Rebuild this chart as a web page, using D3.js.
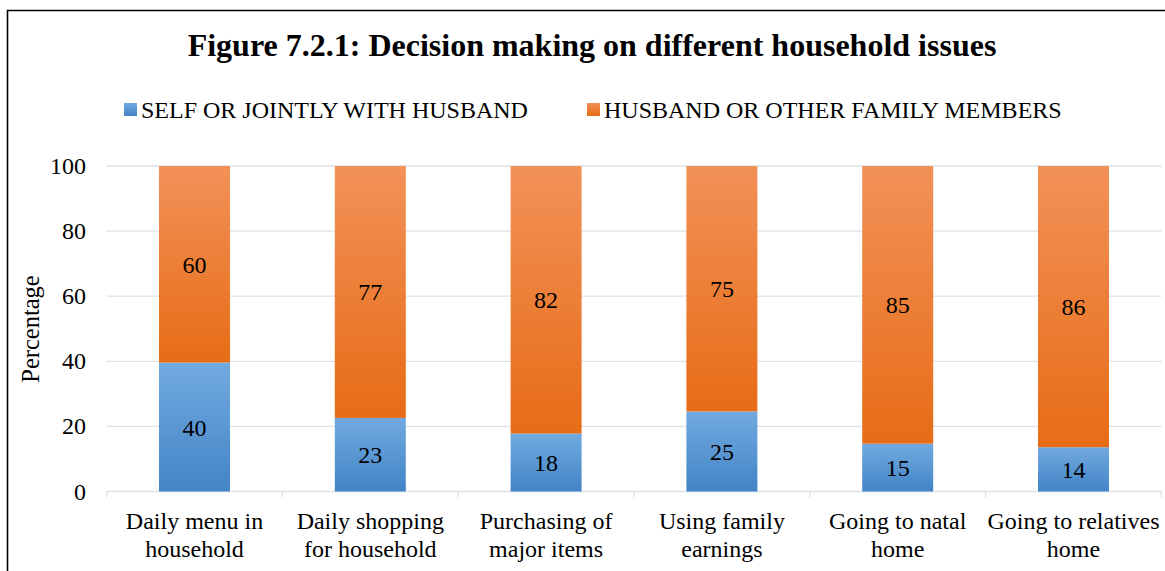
<!DOCTYPE html>
<html><head><meta charset="utf-8">
<script src="https://cdn.jsdelivr.net/npm/d3@7"></script>
<style>body{margin:0;background:#fff}svg{display:block}text{font-family:"Liberation Serif","Times New Roman",serif;fill:#000}</style>
</head><body><svg id="c" width="1165" height="571"></svg>
<script>
const categories = [["Daily menu in","household"],["Daily shopping","for household"],["Purchasing of","major items"],["Using family","earnings"],["Going to natal","home"],["Going to relatives","home"]];
const selfValues = [39.6, 22.6, 17.8, 24.6, 14.7, 13.6];
const husbandValues = [60.4, 77.4, 82.2, 75.4, 85.3, 86.4];
const seriesNames = ["SELF OR JOINTLY WITH HUSBAND","HUSBAND OR OTHER FAMILY MEMBERS"];
const yTicks = [0,20,40,60,80,100];

const svg = d3.select("#c");
const defs = svg.append("defs");
function grad(id, c1, c2){
  const g = defs.append("linearGradient").attr("id",id).attr("x1",0).attr("y1",0).attr("x2",0).attr("y2",1);
  g.append("stop").attr("offset","0%").attr("stop-color",c1);
  g.append("stop").attr("offset","100%").attr("stop-color",c2);
}
grad("gb","#71AAE0","#4384C6");
grad("go","#F29158","#E76C16");

// frame
svg.append("path").attr("d","M7.5,575 L7.5,10.5 L1170,10.5").attr("fill","none").attr("stroke","#000").attr("stroke-width",1.6);

const left=106.6, right=1161.4, y0=491.5, y100=166;
const x = d3.scaleBand().domain(d3.range(categories.length)).range([left,right]).paddingInner(0).paddingOuter(0);
const y = d3.scaleLinear().domain([0,100]).range([y0,y100]);
const bw = 71;
const fs = 24;

// gridlines
svg.append("g").selectAll("line").data(yTicks).join("line")
  .attr("x1",left).attr("x2",right).attr("y1",d=>y(d)).attr("y2",d=>y(d))
  .attr("stroke","#DDE2E9").attr("stroke-width",1.3);
// category ticks
svg.append("g").selectAll("line").data(d3.range(categories.length+1)).join("line")
  .attr("x1",d=>left+d*x.bandwidth()).attr("x2",d=>left+d*x.bandwidth())
  .attr("y1",y0).attr("y2",y0+6).attr("stroke","#DDE2E9").attr("stroke-width",1.3);

// y tick labels
svg.append("g").selectAll("text").data(yTicks).join("text")
  .attr("x",86).attr("y",d=>y(d)+8).attr("text-anchor","end").attr("font-size",fs).text(d=>d);

svg.append("text").attr("transform","translate(39,329) rotate(-90)").attr("text-anchor","middle").attr("font-size",24.5).text("Percentage");

const cx = i => x(i)+x.bandwidth()/2;
const g = svg.append("g");
g.selectAll("rect.b").data(selfValues).join("rect").attr("class","b")
  .attr("x",(d,i)=>cx(i)-bw/2).attr("width",bw).attr("y",d=>y(d)).attr("height",d=>y(0)-y(d)).attr("fill","url(#gb)");
g.selectAll("rect.o").data(husbandValues).join("rect").attr("class","o")
  .attr("x",(d,i)=>cx(i)-bw/2).attr("width",bw).attr("y",(d,i)=>y(selfValues[i]+d)).attr("height",(d,i)=>y(selfValues[i])-y(selfValues[i]+d)).attr("fill","url(#go)");

g.selectAll("text.lb").data(selfValues).join("text").attr("class","lb")
  .attr("x",(d,i)=>cx(i)).attr("y",d=>y(d/2)+8.5).attr("text-anchor","middle").attr("font-size",fs).text(d=>Math.round(d));
g.selectAll("text.lo").data(husbandValues).join("text").attr("class","lo")
  .attr("x",(d,i)=>cx(i)).attr("y",(d,i)=>y(selfValues[i]+d/2)+8.5).attr("text-anchor","middle").attr("font-size",fs).text(d=>Math.round(d));

// x labels
const xl = svg.append("g").selectAll("text").data(categories).join("text")
  .attr("x",(d,i)=>cx(i)).attr("y",529).attr("text-anchor","middle").attr("font-size",fs);
xl.each(function(d,i){
  const t=d3.select(this);
  d.forEach((s,j)=>t.append("tspan").attr("x",cx(i)).attr("y",529+j*27.5).text(s));
});

// title
svg.append("text").attr("x",592).attr("y",56).attr("text-anchor","middle").attr("font-size",32).attr("font-weight","bold").text("Figure 7.2.1: Decision making on different household issues");

// legend
const leg = [{x:124,fill:"url(#gb)",t:seriesNames[0]},{x:587,fill:"url(#go)",t:seriesNames[1]}];
leg.forEach(l=>{
  svg.append("rect").attr("x",l.x).attr("y",103).attr("width",13).attr("height",13).attr("fill",l.fill);
  svg.append("text").attr("x",l.x+17).attr("y",117.5).attr("font-size",fs).text(l.t);
});
</script></body></html>
